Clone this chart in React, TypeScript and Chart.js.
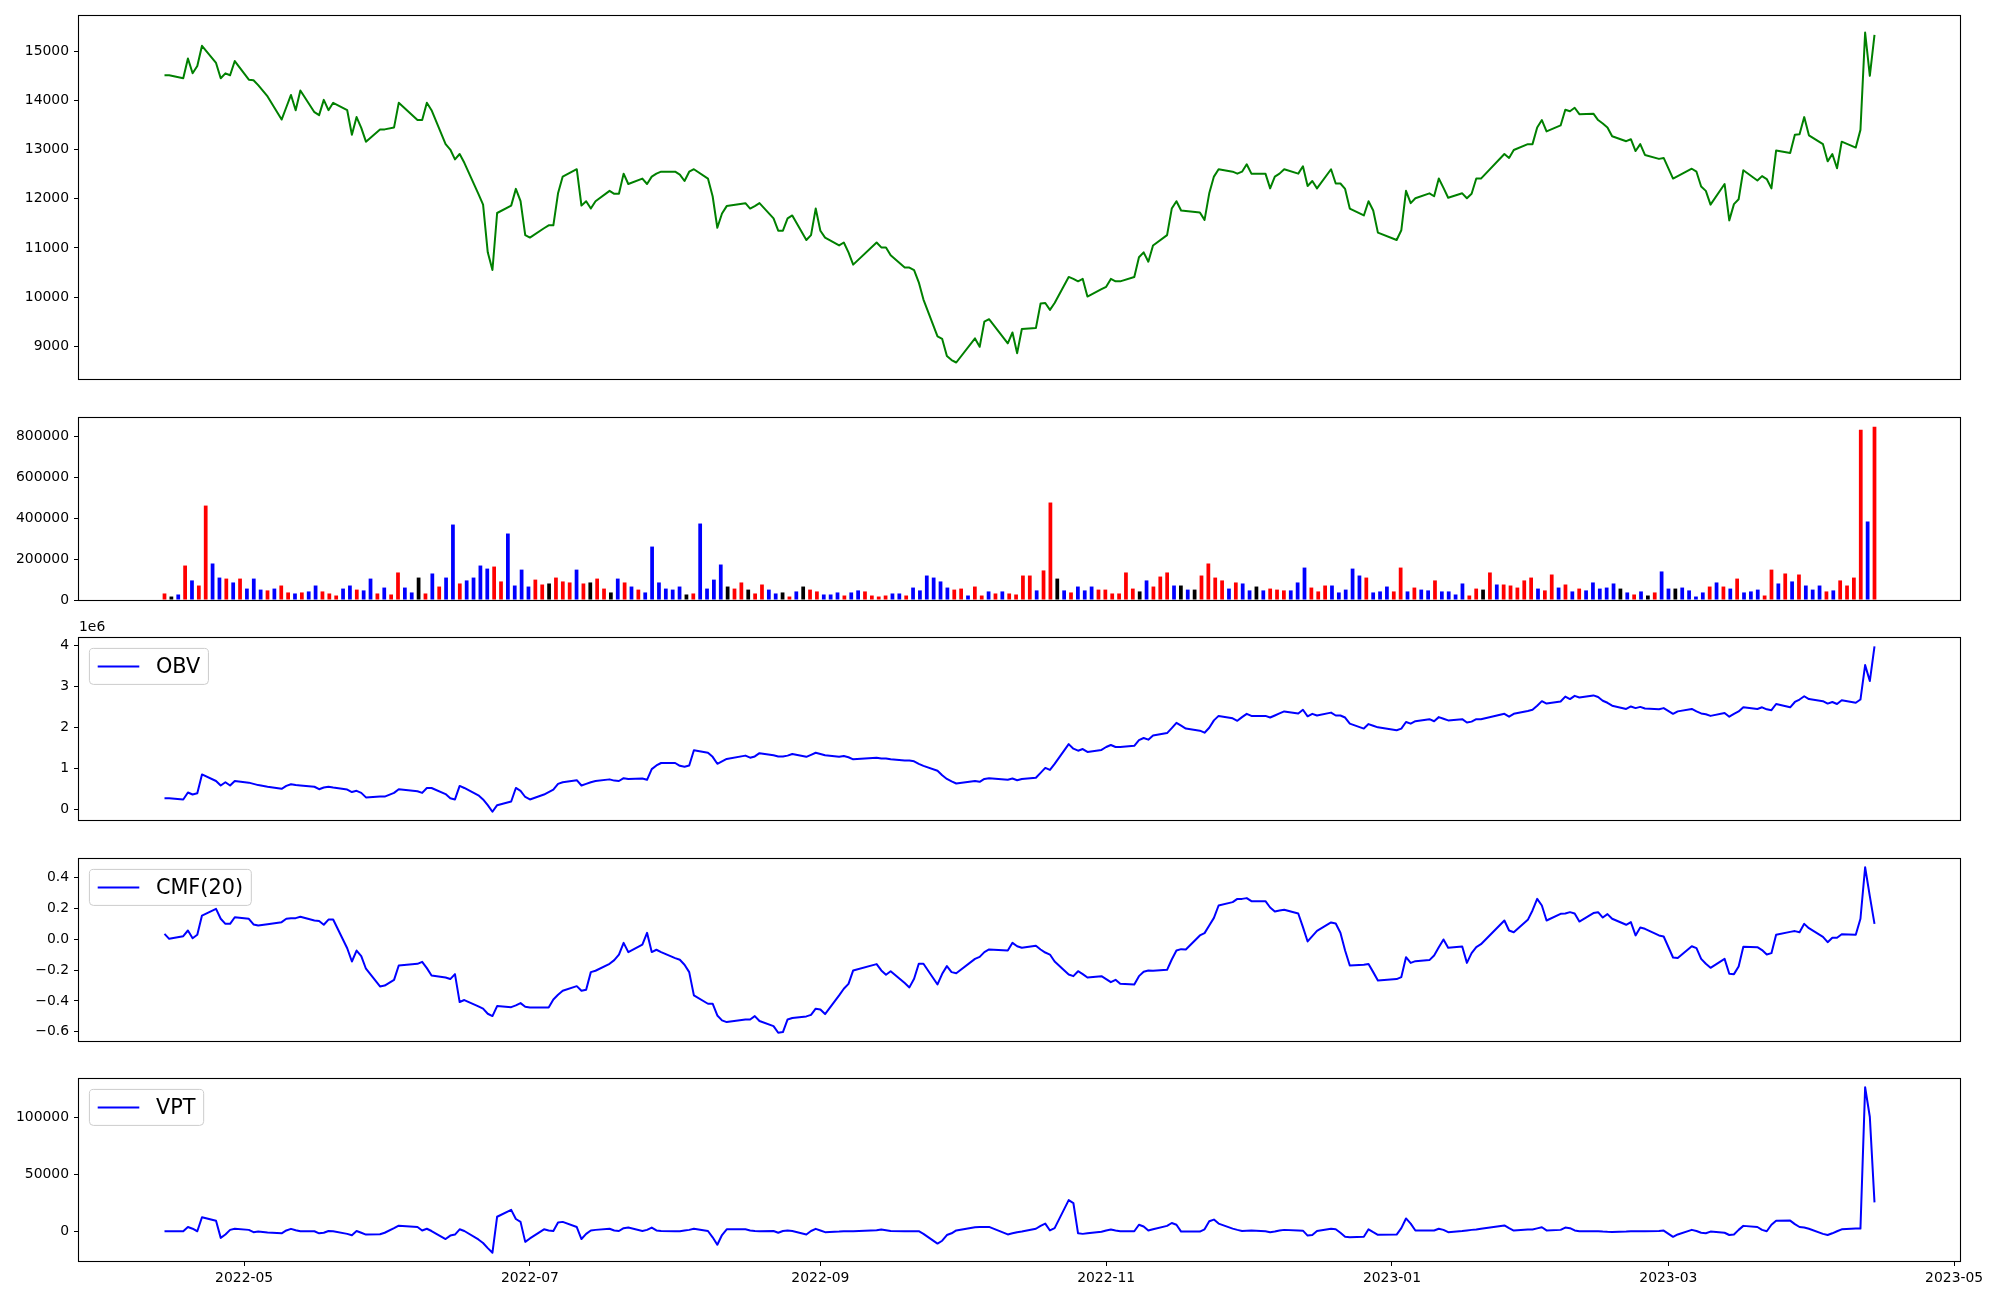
import React, { useEffect, useRef } from "react";
import { Chart, registerables } from "chart.js";

Chart.register(...registerables);

// ---------------- data ----------------
const START_DATE = "2022-04-14";
const END_DATE = "2023-04-14";
const HOLIDAYS = [
  "2022-05-05", "2022-06-01", "2022-06-06", "2022-08-15", "2022-09-09", "2022-09-12",
  "2022-10-03", "2022-10-10", "2022-12-30", "2023-01-23", "2023-01-24", "2023-03-01",
];
const X_TICK_LABELS = ["2022-05", "2022-07", "2022-09", "2022-11", "2023-01", "2023-03", "2023-05"];

const closePrice = [
  14510, 14510, 14450, 14850, 14550, 14700, 15110, 14760, 14450, 14550,
  14510, 14800, 14420, 14410, 14310, 14080, 13610, 13860, 14110, 13800,
  14200, 13760, 13700, 14010, 13800, 13950, 13800, 13300, 13660, 13440,
  13160, 13410, 13410, 13450, 13950, 13600, 13600, 13950, 13800, 13110,
  13000, 12800, 12910, 12730, 12100, 11880, 10910, 10550, 11710, 11860,
  12200, 11950, 11260, 11210, 11400, 11460, 11460, 12110, 12450, 12600,
  11860, 11950, 11800, 11950, 12160, 12100, 12100, 12510, 12300, 12410,
  12300, 12450, 12510, 12550, 12550, 12490, 12360, 12550, 12600, 12410,
  12050, 11410, 11700, 11850, 11910, 11800, 11850, 11910, 11600, 11350,
  11350, 11600, 11660, 11160, 11260, 11800, 11350, 11210, 11050, 11110,
  10910, 10660, 11110, 11010, 11010, 10850, 10600, 10600, 10550, 10300,
  9950, 9200, 9150, 8800, 8720, 8670, 9160, 8990, 9500, 9550,
  9060, 9280, 8860, 9350, 9370, 9870, 9880, 9740, 9880, 10410,
  10370, 10320, 10370, 10010, 10160, 10210, 10370, 10320, 10320, 10410,
  10810, 10910, 10720, 11050, 11260, 11800, 11950, 11760, 11750, 11720,
  11570, 12110, 12450, 12600, 12550, 12510, 12550, 12700, 12510, 12510,
  12210, 12450, 12510, 12600, 12510, 12660, 12260, 12360, 12210, 12600,
  12310, 12310, 12200, 11800, 11660, 11950, 11760, 11310, 11160, 11360,
  12160, 11910, 12010, 12110, 12050, 12410, 12220, 12020, 12110, 12010,
  12100, 12410, 12410, 12910, 12830, 12990, 13110, 13110, 13450, 13600,
  13370, 13490, 13810, 13780, 13850, 13720, 13730, 13600, 13530, 13450,
  13270, 13170, 13210, 12970, 13110, 12890, 12810, 12830, 12410, 12460,
  12610, 12550, 12250, 12160, 11880, 12300, 11560, 11890, 11990, 12580,
  12370, 12460, 12400, 12210, 12980, 12930, 13300, 13310, 13660, 13290,
  13110, 12760, 12910, 12620, 13160, 13040, 13400, 15380, 14500, 15330,
];

// volume in thousands of shares
const volumeK = [
  32, 17, 27, 169, 96, 71, 463, 179, 110, 105,
  86, 105, 56, 105, 51, 47, 56, 71, 37, 32,
  37, 42, 71, 42, 32, 22, 56, 71, 51, 47,
  105, 32, 61, 27, 135, 61, 37, 110, 32, 130,
  66, 110, 370, 81, 96, 110, 169, 154, 164, 91,
  326, 71, 149, 66, 100, 76, 81, 110, 91, 86,
  149, 81, 86, 105, 56, 37, 105, 86, 66, 51,
  37, 262, 86, 56, 51, 66, 27, 32, 375, 56,
  100, 174, 66, 56, 86, 51, 32, 76, 51, 32,
  37, 17, 42, 66, 51, 42, 27, 27, 37, 22,
  37, 47, 42, 22, 17, 22, 32, 32, 22, 61,
  47, 120, 110, 91, 61, 51, 56, 22, 66, 22,
  42, 32, 42, 32, 27, 120, 120, 47, 145, 478,
  105, 47, 37, 66, 47, 66, 51, 51, 32, 32,
  135, 56, 42, 96, 66, 115, 135, 71, 71, 51,
  51, 120, 179, 110, 96, 56, 86, 81, 47, 66,
  47, 56, 51, 47, 47, 86, 159, 61, 42, 71,
  71, 37, 51, 154, 120, 110, 37, 42, 66, 42,
  159, 42, 61, 51, 47, 96, 42, 42, 27, 81,
  22, 56, 51, 135, 76, 76, 71, 61, 96, 110,
  56, 47, 125, 61, 76, 42, 56, 47, 86, 56,
  61, 81, 56, 37, 27, 42, 22, 37, 140, 56,
  56, 61, 47, 17, 37, 66, 86, 66, 56, 105,
  37, 42, 51, 22, 149, 81, 130, 91, 125, 71,
  51, 71, 42, 47, 96, 71, 110, 835, 385, 850,
];

// r = red, b = blue, k = black
const volumeColorCodes = (
  "rkbrbrrbbr" + "brbbbrbrrb" + "rbbrrrbbrb" + "brbrrbbkrb" + "rbbrbbbbrr" +
  "bbbbrrkrrr" + "brkrrkbrbr" + "bbbbbbkrbb" + "bbkrrkrrbb" + "krbkrrbbbr" +
  "bbrrrrbbrb" + "bbbbbrrbrr" + "brbrrrrbrr" + "kbrbbbrrrr" + "rrkbrrrbkb" +
  "krrrrbrbbk" + "brrrbbbrrr" + "bbbbbrbbbr" + "rbrbbrbbbb" + "rrkrbrrrrr" +
  "brrbrbrbbb" + "bbkbrbkrbb" + "kbbbbrbrbr" + "bbbrrbrbrb" + "bbrbrrrrbr"
).split("");

// OBV in millions
const obvMillions = [
  0.27, 0.27, 0.24, 0.41, 0.36, 0.39, 0.85, 0.69, 0.58, 0.66,
  0.58, 0.69, 0.65, 0.62, 0.59, 0.55, 0.50, 0.57, 0.61, 0.59,
  0.58, 0.55, 0.49, 0.53, 0.55, 0.53, 0.48, 0.42, 0.45, 0.40,
  0.29, 0.31, 0.31, 0.40, 0.49, 0.44, 0.40, 0.52, 0.52, 0.37,
  0.27, 0.24, 0.57, 0.52, 0.34, 0.24, 0.10, -0.06, 0.10, 0.19,
  0.52, 0.45, 0.30, 0.24, 0.36, 0.42, 0.48, 0.62, 0.66, 0.71,
  0.58, 0.62, 0.66, 0.69, 0.73, 0.70, 0.69, 0.76, 0.74, 0.75,
  0.72, 0.98, 1.07, 1.13, 1.13, 1.06, 1.04, 1.07, 1.44, 1.38,
  1.28, 1.11, 1.17, 1.23, 1.31, 1.26, 1.29, 1.37, 1.32, 1.29,
  1.29, 1.31, 1.35, 1.28, 1.33, 1.38, 1.35, 1.32, 1.28, 1.30,
  1.27, 1.22, 1.26, 1.24, 1.24, 1.22, 1.19, 1.19, 1.17, 1.11,
  1.06, 0.94, 0.83, 0.74, 0.68, 0.63, 0.69, 0.67, 0.74, 0.76,
  0.72, 0.75, 0.71, 0.74, 0.77, 0.89, 1.01, 0.96, 1.11, 1.59,
  1.48, 1.43, 1.47, 1.40, 1.45, 1.52, 1.57, 1.52, 1.52, 1.55,
  1.69, 1.74, 1.70, 1.80, 1.86, 1.98, 2.11, 2.04, 1.97, 1.92,
  1.87, 1.99, 2.17, 2.28, 2.22, 2.16, 2.25, 2.33, 2.28, 2.28,
  2.24, 2.29, 2.34, 2.39, 2.34, 2.43, 2.27, 2.33, 2.29, 2.36,
  2.29, 2.29, 2.24, 2.09, 1.97, 2.08, 2.04, 2.00, 1.93, 1.97,
  2.13, 2.09, 2.15, 2.20, 2.15, 2.25, 2.21, 2.17, 2.20, 2.12,
  2.14, 2.20, 2.20, 2.33, 2.26, 2.33, 2.40, 2.43, 2.53, 2.64,
  2.58, 2.63, 2.75, 2.69, 2.77, 2.73, 2.78, 2.74, 2.65, 2.60,
  2.53, 2.45, 2.51, 2.47, 2.50, 2.46, 2.44, 2.47, 2.33, 2.39,
  2.45, 2.39, 2.34, 2.32, 2.28, 2.35, 2.26, 2.33, 2.39, 2.49,
  2.45, 2.49, 2.44, 2.42, 2.57, 2.49, 2.62, 2.68, 2.76, 2.69,
  2.64, 2.58, 2.62, 2.57, 2.66, 2.60, 2.68, 3.52, 3.13, 3.98,
];

const cmf20 = [
  0.035, 0.003, 0.02, 0.057, 0.007, 0.029, 0.154, 0.197, 0.133, 0.10,
  0.10, 0.143, 0.133, 0.096, 0.089, 0.098, 0.111, 0.133, 0.137, 0.137,
  0.146, 0.122, 0.118, 0.094, 0.128, 0.128, -0.058, -0.144, -0.073, -0.109,
  -0.191, -0.306, -0.30, -0.263, -0.17, -0.159, -0.146, -0.187, -0.235, -0.248,
  -0.258, -0.226, -0.407, -0.394, -0.435, -0.45, -0.483, -0.498, -0.433, -0.44,
  -0.429, -0.414, -0.438, -0.442, -0.442, -0.442, -0.39, -0.36, -0.334, -0.304,
  -0.334, -0.327, -0.213, -0.204, -0.159, -0.135, -0.099, -0.023, -0.083, -0.034,
  0.042, -0.083, -0.068, -0.083, -0.122, -0.133, -0.165, -0.213, -0.364, -0.418,
  -0.418, -0.494, -0.526, -0.537, -0.52, -0.52, -0.498, -0.53, -0.563, -0.606,
  -0.602, -0.52, -0.511, -0.50, -0.49, -0.45, -0.455, -0.485, -0.364, -0.321,
  -0.289, -0.202, -0.161, -0.202, -0.23, -0.207, -0.284, -0.312, -0.256, -0.159,
  -0.159, -0.293, -0.224, -0.174, -0.213, -0.22, -0.127, -0.114, -0.083, -0.066,
  -0.073, -0.023, -0.045, -0.055, -0.042, -0.066, -0.086, -0.099, -0.144, -0.228,
  -0.239, -0.207, -0.226, -0.248, -0.239, -0.258, -0.278, -0.263, -0.289, -0.293,
  -0.239, -0.211, -0.202, -0.204, -0.198, -0.131, -0.073, -0.064, -0.066, 0.025,
  0.04, 0.09, 0.139, 0.219, 0.241, 0.262, 0.262, 0.267, 0.247, 0.247,
  0.206, 0.18, 0.187, 0.191, 0.167, 0.079, -0.014, 0.02, 0.055, 0.109,
  0.102, 0.042, -0.073, -0.17, -0.165, -0.161, -0.213, -0.267, -0.258, -0.245,
  -0.116, -0.153, -0.142, -0.135, -0.105, -0.051, -0.001, -0.055, -0.047, -0.153,
  -0.09, -0.051, -0.032, 0.122, 0.057, 0.046, 0.126, 0.187, 0.262, 0.219,
  0.122, 0.165, 0.167, 0.176, 0.167, 0.115, 0.17, 0.176, 0.141, 0.163,
  0.133, 0.094, 0.111, 0.025, 0.076, 0.068, 0.025, 0.018, -0.118, -0.122,
  -0.045, -0.057, -0.127, -0.159, -0.185, -0.127, -0.224, -0.226, -0.176, -0.049,
  -0.051, -0.07, -0.099, -0.09, 0.029, 0.048, 0.053, 0.046, 0.10, 0.072,
  0.016, -0.019, 0.01, 0.01, 0.033, 0.029, 0.133, 0.467, 0.28, 0.10,
];

// VPT in thousands
const vptK = [
  0.3, 0.3, 0.3, 4.0, 2.5, 0.3, 12.5, 9.5, -5.5, -2.5,
  1.5, 2.4, 1.5, -0.5, 0.0, -0.8, -1.5, 1.0, 2.4, 1.2,
  0.3, 0.3, -1.5, -1.0, 0.5, 0.3, -2.0, -3.2, 0.5, -1.0,
  -2.6, -2.3, -1.0, 3.0, 5.2, 4.0, 1.0, 2.5, 0.5, -6.5,
  -3.5, -2.6, 2.0, 0.5, -6.9, -10.0, -14.5, -18.5, 13.0, 19.0,
  11.0, 8.5, -9.0, -6.0, 2.0, 1.0, 0.5, 8.0, 8.5, 4.0,
  -6.5, -2.0, 1.0, 1.5, 2.5, 1.0, 0.5, 3.0, 3.5, 0.5,
  1.5, 3.5, 1.0, 0.6, 0.3, 0.3, 1.0, 1.5, 2.5, 0.5,
  -5.0, -11.5, -3.0, 2.0, 2.0, 1.0, 0.5, 0.3, 0.5, -1.0,
  0.5, 1.0, 0.5, -2.6, 0.5, 2.4, 1.0, -0.5, 0.0, 0.3,
  0.3, 0.3, 1.2, 1.8, 1.2, 0.5, 0.3, 0.3, 0.3, 0.3,
  -2.0, -10.5, -8.0, -3.0, -1.5, 1.0, 3.8, 4.0, 4.0, 4.1,
  -2.5, -1.5, -0.5, 0.0, 2.5, 5.0, 7.0, 1.0, 3.0, 27.5,
  25.0, -1.5, -2.0, -1.5, -0.2, 1.0, 1.8, 1.0, 0.3, 0.3,
  6.0, 4.5, 0.9, 2.0, 5.0, 7.5, 6.0, 0.0, 0.0, 0.0,
  2.0, 9.0, 10.5, 7.0, 2.6, 1.5, 0.5, 0.8, 1.0, 0.3,
  -0.5, 0.0, 1.0, 1.5, 1.0, 0.8, -3.5, -3.0, 0.5, 2.5,
  2.0, -1.0, -4.5, -5.0, -4.5, 2.0, -0.5, -2.8, -2.6, 3.0,
  11.5, 7.0, 0.9, 1.0, 1.0, 2.5, 1.5, -0.5, 0.5, 1.0,
  1.5, 1.8, 2.5, 5.4, 3.0, 0.9, 1.8, 1.8, 2.8, 3.8,
  1.0, 1.5, 3.5, 3.0, 1.0, 0.3, 0.3, 0.3, 0.0, -0.2,
  -0.3, 0.0, 0.2, 0.3, 0.3, 0.3, 0.5, 0.9, -4.6, -2.5,
  1.5, 0.5, -1.0, -1.5, 0.0, -1.0, -3.0, -2.5, 1.5, 5.0,
  4.0, 1.5, 0.3, 6.0, 9.5, 9.6, 6.5, 4.0, 3.5, 2.5,
  -2.0, -3.0, -1.5, 0.3, 2.0, 2.6, 2.6, 126.3, 100.5, 25.6,
];

const PRICE_TICKS = [9000, 10000, 11000, 12000, 13000, 14000, 15000];
const VOLUME_TICKS = [0, 200000, 400000, 600000, 800000];
const OBV_TICKS = [0, 1, 2, 3, 4];
const CMF_TICKS = [-0.6, -0.4, -0.2, 0, 0.2, 0.4];
const VPT_TICKS = [0, 50000, 100000];

// ---------------- helpers ----------------
const DAY_MS = 86400000;
const dayNum = (s: string) => Math.round(Date.parse(s + "T00:00:00Z") / DAY_MS);

function tradingDays(): number[] {
  const hol = new Set(HOLIDAYS.map(dayNum));
  const out: number[] = [];
  for (let d = dayNum(START_DATE); d <= dayNum(END_DATE); d++) {
    const wd = new Date(d * DAY_MS).getUTCDay();
    if (wd === 0 || wd === 6 || hol.has(d)) continue;
    out.push(d);
  }
  return out;
}

function paddedRange(vals: number[], includeZeroBase = false): [number, number] {
  let mn = Math.min(...vals);
  let mx = Math.max(...vals);
  if (includeZeroBase) {
    return [0, mx * 1.05];
  }
  const r = mx - mn;
  return [mn - 0.05 * r, mx + 0.05 * r];
}

const FONT = { family: "'DejaVu Sans', 'Liberation Sans', sans-serif", size: 13.9 };

const framePlugin = {
  id: "frame",
  afterDraw(chart: any) {
    const { ctx, chartArea: a } = chart;
    ctx.save();
    ctx.strokeStyle = "#000";
    ctx.lineWidth = 1.1;
    ctx.strokeRect(Math.round(a.left) - 0.5, Math.round(a.top) - 0.5,
      Math.round(a.right - a.left) + 1, Math.round(a.bottom - a.top) + 1);
    ctx.restore();
  },
};

function legendPlugin(label: string, color: string) {
  return {
    id: "boxLegend",
    afterDraw(chart: any) {
      const { ctx, chartArea: a } = chart;
      const fs = 20.8;
      ctx.save();
      ctx.font = `${fs}px 'DejaVu Sans', sans-serif`;
      const tw = ctx.measureText(label).width;
      const x = a.left + 10.4;
      const y = a.top + 10.4;
      const w = 8.3 + 41.6 + 16.6 + tw + 8.3;
      const h = 36;
      const r = 4;
      ctx.beginPath();
      ctx.moveTo(x + r, y);
      ctx.lineTo(x + w - r, y);
      ctx.arcTo(x + w, y, x + w, y + r, r);
      ctx.lineTo(x + w, y + h - r);
      ctx.arcTo(x + w, y + h, x + w - r, y + h, r);
      ctx.lineTo(x + r, y + h);
      ctx.arcTo(x, y + h, x, y + h - r, r);
      ctx.lineTo(x, y + r);
      ctx.arcTo(x, y, x + r, y, r);
      ctx.closePath();
      ctx.fillStyle = "rgba(255,255,255,0.8)";
      ctx.fill();
      ctx.strokeStyle = "#cccccc";
      ctx.lineWidth = 1;
      ctx.stroke();
      ctx.beginPath();
      ctx.strokeStyle = color;
      ctx.lineWidth = 2;
      ctx.moveTo(x + 8.3, y + h / 2);
      ctx.lineTo(x + 8.3 + 41.6, y + h / 2);
      ctx.stroke();
      ctx.fillStyle = "#000";
      ctx.textBaseline = "middle";
      ctx.textAlign = "left";
      ctx.fillText(label, x + 8.3 + 41.6 + 16.6, y + h / 2 + 1);
      ctx.restore();
    },
  };
}

const offsetTextPlugin = (text: string) => ({
  id: "offsetText",
  afterDraw(chart: any) {
    const { ctx, chartArea: a } = chart;
    ctx.save();
    ctx.font = `13.9px 'DejaVu Sans', sans-serif`;
    ctx.fillStyle = "#000";
    ctx.textBaseline = "bottom";
    ctx.textAlign = "left";
    ctx.fillText(text, a.left, a.top - 4);
    ctx.restore();
  },
});

const PANELS = [
  { top: 0, h: 395, padTop: 16, padBottom: 16, xAxisH: 0 },
  { top: 398, h: 218, padTop: 20, padBottom: 16, xAxisH: 0 },
  { top: 618, h: 218, padTop: 20, padBottom: 16, xAxisH: 0 },
  { top: 839, h: 218, padTop: 20, padBottom: 16, xAxisH: 0 },
  { top: 1059, h: 241, padTop: 20, padBottom: 0, xAxisH: 39 },
];

export default function App() {
  const r0 = useRef<HTMLCanvasElement>(null);
  const r1 = useRef<HTMLCanvasElement>(null);
  const r2 = useRef<HTMLCanvasElement>(null);
  const r3 = useRef<HTMLCanvasElement>(null);
  const r4 = useRef<HTMLCanvasElement>(null);
  const refs = [r0, r1, r2, r3, r4];

  useEffect(() => {
    Chart.defaults.font.family = FONT.family;
    Chart.defaults.font.size = FONT.size;
    Chart.defaults.color = "#000";

    const days = tradingDays();
    const n = Math.min(days.length, closePrice.length);
    const d0 = days[0];
    const dN = days[n - 1];
    const span = dN - d0;
    const xMin = d0 - 0.05 * span;
    const xMax = dN + 0.05 * span;
    const tickDays = X_TICK_LABELS.map((l) => dayNum(l + "-01"));
    const barStep = span / (n - 1);
    const barX = closePrice.slice(0, n).map((_, i) => d0 + i * barStep);

    const xScale = (show: boolean, axisH: number) => ({
      type: "linear" as const,
      min: xMin,
      max: xMax,
      offset: false,
      display: show,
      afterBuildTicks: (s: any) => {
        s.ticks = tickDays.map((v) => ({ value: v }));
      },
      afterFit: (s: any) => {
        if (show) s.height = axisH;
      },
      ticks: {
        callback: (_v: any, idx: number) => X_TICK_LABELS[idx],
        autoSkip: false,
        maxRotation: 0,
        padding: 4,
        color: "#000",
        font: FONT,
      },
      grid: { display: true, offset: false, drawOnChartArea: false, drawTicks: true, tickLength: 5, color: "#000", lineWidth: 1 },
      border: { display: false },
    });

    const yScale = (range: [number, number], ticks: number[], fmt: (v: number) => string) => ({
      type: "linear" as const,
      position: "left" as const,
      min: range[0],
      max: range[1],
      afterBuildTicks: (s: any) => {
        s.ticks = ticks.map((v) => ({ value: v }));
      },
      afterFit: (s: any) => {
        s.width = 79;
      },
      ticks: {
        callback: (v: any) => fmt(Number(v)),
        autoSkip: false,
        padding: 5,
        color: "#000",
        font: FONT,
      },
      grid: { display: true, drawOnChartArea: false, drawTicks: true, tickLength: 5, color: "#000", lineWidth: 1 },
      border: { display: false },
    });

    const baseOptions = (p: any, x: any, y: any) => ({
      responsive: false,
      maintainAspectRatio: false,
      animation: false as const,
      devicePixelRatio: 1,
      events: [] as any[],
      layout: { padding: { left: 0, right: 40, top: p.padTop, bottom: p.padBottom } },
      plugins: { legend: { display: false }, tooltip: { enabled: false }, title: { display: false } },
      scales: { x, y },
    });

    const lineDs = (vals: number[], color: string, mult = 1) => ({
      data: vals.slice(0, n).map((v, i) => ({ x: days[i], y: v * mult })),
      borderColor: color,
      backgroundColor: color,
      borderWidth: 2,
      pointRadius: 0,
      tension: 0,
      borderJoinStyle: "round" as const,
      fill: false,
    });

    const colorMap: Record<string, string> = { r: "#ff0000", b: "#0000ff", k: "#000000" };
    const vol = volumeK.slice(0, n).map((v) => v * 1000);
    const vpt = vptK.slice(0, n).map((v) => v * 1000);

    const charts: Chart[] = [];
    const mk = (i: number, cfg: any) => {
      const c = refs[i].current;
      if (!c) return;
      charts.push(new Chart(c, cfg));
    };

    const str = (v: number) => String(Math.round(v * 1000) / 1000);

    // price
    mk(0, {
      type: "line",
      data: { datasets: [lineDs(closePrice, "#008000")] },
      options: baseOptions(PANELS[0], xScale(false, 0), yScale(paddedRange(closePrice.slice(0, n)), PRICE_TICKS, str)),
      plugins: [framePlugin],
    });

    // volume
    mk(1, {
      type: "bar",
      data: {
        datasets: [{
          data: vol.map((v, i) => ({ x: barX[i], y: v })),
          backgroundColor: volumeColorCodes.slice(0, n).map((c) => colorMap[c] || "#000"),
          borderWidth: 0,
          barPercentage: 0.8 / barStep,
          categoryPercentage: 1,
        }],
      },
      options: baseOptions(PANELS[1], xScale(false, 0), yScale(paddedRange(vol, true), VOLUME_TICKS, str)),
      plugins: [framePlugin],
    });

    // OBV
    mk(2, {
      type: "line",
      data: { datasets: [lineDs(obvMillions, "#0000ff")] },
      options: baseOptions(PANELS[2], xScale(false, 0), yScale(paddedRange(obvMillions.slice(0, n)), OBV_TICKS, str)),
      plugins: [framePlugin, legendPlugin("OBV", "#0000ff"), offsetTextPlugin("1e6")],
    });

    // CMF
    mk(3, {
      type: "line",
      data: { datasets: [lineDs(cmf20, "#0000ff")] },
      options: baseOptions(PANELS[3], xScale(false, 0), yScale(paddedRange(cmf20.slice(0, n)), CMF_TICKS,
        (v) => v.toFixed(1).replace("-", "\u2212"))),
      plugins: [framePlugin, legendPlugin("CMF(20)", "#0000ff")],
    });

    // VPT
    mk(4, {
      type: "line",
      data: { datasets: [lineDs(vpt, "#0000ff")] },
      options: baseOptions(PANELS[4], xScale(true, PANELS[4].xAxisH), yScale(paddedRange(vpt), VPT_TICKS, str)),
      plugins: [framePlugin, legendPlugin("VPT", "#0000ff")],
    });

    return () => {
      charts.forEach((c) => c.destroy());
    };
  }, []);

  return (
    <div style={{ position: "absolute", left: 0, top: 0, width: 2000, height: 1300, background: "#ffffff" }}>
      {PANELS.map((p, i) => (
        <canvas
          key={i}
          ref={refs[i]}
          width={2000}
          height={p.h}
          style={{ position: "absolute", left: 0, top: p.top, width: 2000, height: p.h }}
        />
      ))}
    </div>
  );
}
